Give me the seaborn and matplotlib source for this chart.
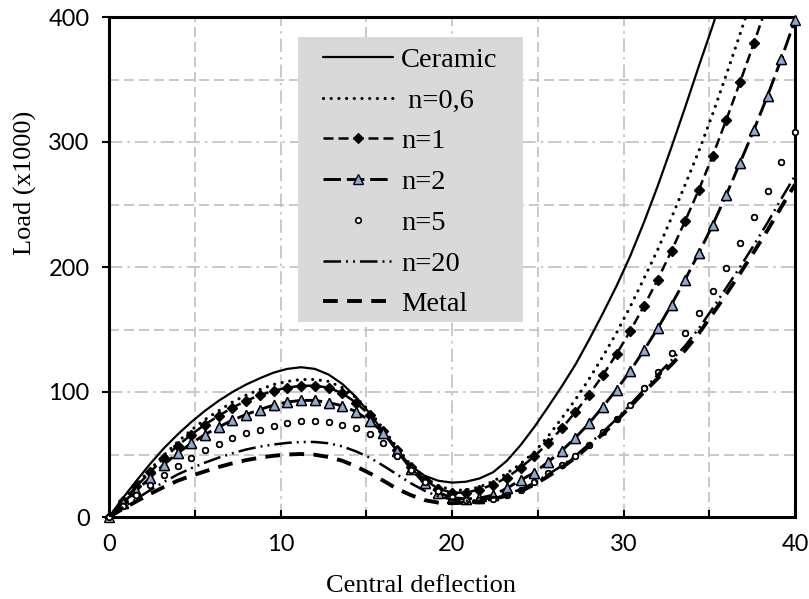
import numpy as np
import pandas as pd
import matplotlib
matplotlib.use("Agg")
import matplotlib.pyplot as plt
from matplotlib.patches import Rectangle
from matplotlib.ticker import MultipleLocator
import seaborn as sns

# Central deflection sampled every 0.8 (51 load steps)
deflection = np.round(np.arange(51) * 0.8, 1)

ceramic = [0, 15, 29, 42.5, 55, 66, 76, 85, 93, 100, 106, 111, 115.5, 118.5, 119.8, 118.5,
           114, 106.5, 96, 83, 68, 53, 41, 33, 29, 27.5, 28.2, 30.8, 35.8, 45, 57.5,
           72, 88, 104.5, 122, 142, 163, 185, 209, 236, 265, 296, 328, 361, 393, 427,
           461, 496, 532, 568, 605]
n06 = [0, 13.5, 26, 38, 49.5, 60, 69.5, 78, 85, 92, 97.5, 102, 106, 108.5, 110, 110,
       108.5, 103.5, 95.5, 84.5, 70.5, 55.5, 41.5, 31.5, 25, 21.5, 21.5, 24, 28.5, 35,
       42.5, 52, 64.5, 79, 94, 110.5, 128.5, 147.5, 168.5, 191, 214, 239.5, 266, 293,
       322.5, 354, 386.5, 420, 454, 490, 526]
n1 = [0, 12.5, 24.5, 36, 47, 57, 66, 74, 81, 87.5, 93, 97.5, 101, 103.5, 105, 105,
      103.5, 99, 91.5, 81.5, 68.5, 54, 40, 30, 22.5, 19.5, 19.5, 22, 26, 31.5, 39.5,
      48.5, 59, 71, 84, 98, 113.5, 130.5, 149, 169, 190, 213, 237, 262, 289, 318, 348,
      379, 411, 444, 478]
n2 = [0, 11.5, 21, 31.5, 42, 51, 59, 66, 72, 77.5, 82, 86, 89.5, 92, 93.3, 93.3, 91.5,
      89, 84.3, 77, 67.5, 53, 38.5, 27, 19.5, 15.5, 14.5, 15, 17.6, 23, 29.5, 35.5, 44,
      53, 63.5, 75, 88.3, 102, 117, 133.6, 151, 170, 190, 211.5, 233.6, 258, 283.5,
      309.6, 337, 366.4, 397.6]
n5 = [0, 9, 18, 26, 34, 41, 47.5, 53.5, 58.5, 63, 67, 70, 73, 75.5, 77, 77, 75.7, 73.6,
      71, 66.5, 59, 49, 38, 28, 20.5, 16, 14, 13.5, 14.5, 17.5, 22, 28, 35, 41.5, 49,
      58, 68, 78.5, 90, 103, 116.3, 131, 147, 163, 181, 199.5, 219, 240, 261, 284, 308]
n20 = [0, 7.5, 14.5, 21.5, 28, 34, 39, 43.5, 47.5, 51, 54, 56.3, 58, 59.3, 60, 60, 59,
       56.5, 52.5, 47.5, 41, 34, 27, 21, 16.5, 14, 13, 13.5, 15.5, 18.5, 22, 27.5, 34,
       41, 49, 58.5, 68, 78.5, 90, 102, 114, 125.5, 137, 151, 167, 183.5, 200, 217.5,
       235.5, 254.5, 273]
metal = [0, 6.5, 12.5, 18.5, 24, 29, 33, 36.5, 40, 43, 45.5, 47.5, 49, 50, 50.4, 49.8,
         48, 45, 40.5, 35, 29, 22.5, 17.5, 13.5, 11.5, 11, 11.5, 12.5, 14.5, 17, 20.5,
         26, 32.5, 39.5, 47.5, 57, 66.5, 77, 88.5, 100, 111, 122, 133.5, 147, 162.5,
         178.5, 195, 212, 229.5, 248, 266]

labels = ["Ceramic", " n=0,6", "n=1", "n=2", "n=5", "n=20", "Metal"]
series = [ceramic, n06, n1, n2, n5, n20, metal]

df = pd.concat(
    [pd.DataFrame({"w": deflection, "load": vals, "case": lab})
     for lab, vals in zip(labels, series)],
    ignore_index=True,
)

styles = {
    "Ceramic": dict(linestyle="-", linewidth=1.6),
    " n=0,6": dict(linestyle=(0, (0.01, 2.4)), linewidth=2.3, dash_capstyle="round"),
    "n=1": dict(linestyle=(0, (4, 2)), linewidth=1.8, marker="D", markersize=5,
                markerfacecolor="black", markeredgecolor="black", markeredgewidth=0.8),
    "n=2": dict(linestyle=(0, (6, 2)), linewidth=2.1, marker="^", markersize=7.5,
                markerfacecolor="#8fa8d4", markeredgecolor="black", markeredgewidth=1.0),
    "n=5": dict(linestyle="none", marker="o", markersize=4, markerfacecolor="white",
                markeredgecolor="black", markeredgewidth=1.2),
    "n=20": dict(linestyle=(0, (7, 2, 0.8, 2, 0.8, 2)), linewidth=1.8),
    "Metal": dict(linestyle=(0, (3.8, 2.4)), linewidth=2.8),
}

sns.set_theme(style="white")
plt.rcParams.update({
    "font.family": ["Liberation Serif", "DejaVu Serif"],
    "text.color": "black",
    "axes.labelcolor": "black",
    "xtick.color": "black",
    "ytick.color": "black",
})

fig = plt.figure(figsize=(8.09, 5.99), dpi=100)
ax = fig.add_axes([109 / 809, 1 - 517 / 599, 686 / 809, 500 / 599])

handles = []
for i, lab in enumerate(labels):
    sub = df[df["case"] == lab]
    sns.lineplot(data=sub, x="w", y="load", ax=ax, color="black", errorbar=None,
                 sort=False, label=lab, zorder=3 + i, **styles[lab])
    handles.append(ax.lines[-1])
    # markers that sit on the frame are drawn unclipped
    if "marker" in styles[lab]:
        inside = sub[sub["load"] <= 400]
        mk = {k: v for k, v in styles[lab].items()
              if k.startswith("marker")}
        sns.lineplot(data=inside, x="w", y="load", ax=ax, color="black",
                     errorbar=None, sort=False, linestyle="none", clip_on=False,
                     zorder=3 + i, legend=False, **mk)

ax.set_xlim(0, 40)
ax.set_ylim(0, 400)
ax.xaxis.set_major_locator(MultipleLocator(10))
ax.xaxis.set_minor_locator(MultipleLocator(5))
ax.yaxis.set_major_locator(MultipleLocator(100))
ax.yaxis.set_minor_locator(MultipleLocator(50))
ax.set_axisbelow(True)
ax.grid(which="major", color="#c0c0c0", linewidth=1.2, linestyle=(0, (8, 3, 1.5, 3)))
ax.grid(which="minor", color="#c0c0c0", linewidth=1.2, linestyle=(0, (6, 3)))

for sp in ax.spines.values():
    sp.set_visible(True)
    sp.set_color("black")
    sp.set_linewidth(2.2)

ax.tick_params(axis="x", which="both", direction="in", length=5, width=1.5,
               bottom=True, top=False, pad=12)
ax.tick_params(axis="y", which="major", direction="out", length=5, width=1.5,
               left=True, pad=9)
ax.tick_params(axis="y", which="minor", left=False)
ax.tick_params(labelsize=17, labelfontfamily="Lato")

ax.set_xlabel("Central deflection", fontsize=19)
ax.set_ylabel("Load (x1000)", fontsize=19)
ax.xaxis.set_label_coords(0.455, -0.117)
ax.yaxis.set_label_coords(-0.105, 0.668)

# shaded legend panel
ax.add_patch(Rectangle(((298 - 109) / 686, (517 - 322) / 500), 225 / 686, 285 / 500,
                       transform=ax.transAxes, facecolor="#d9d9d9", edgecolor="none",
                       zorder=1))
ax.legend(handles=handles, labels=labels, loc="upper left",
          bbox_to_anchor=((323 - 109) / 686, (517 - 47) / 500), frameon=False,
          prop={"family": "Liberation Serif", "size": 20.5}, handlelength=2.45,
          handletextpad=0.3, labelspacing=0.52, borderpad=0, borderaxespad=0)

fig.savefig("out.png", dpi=100)
